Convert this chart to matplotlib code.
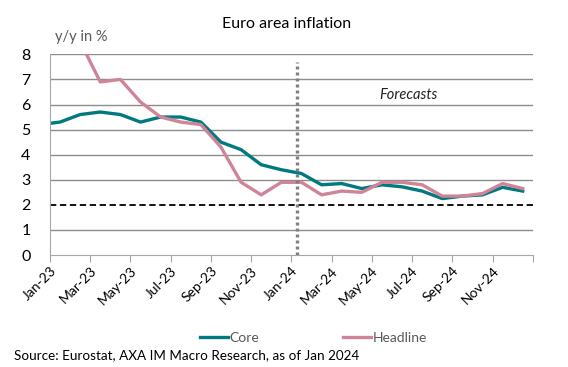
import numpy as np
import matplotlib
matplotlib.use("Agg")
import matplotlib.pyplot as plt

plt.rcParams['font.family'] = ['Lato', 'DejaVu Sans']

# monthly data, Dec-22 .. Dec-24 (Dec-22 sits left of the axis and gets clipped)
months = ['Dec-22',
          'Jan-23', 'Feb-23', 'Mar-23', 'Apr-23', 'May-23', 'Jun-23',
          'Jul-23', 'Aug-23', 'Sep-23', 'Oct-23', 'Nov-23', 'Dec-23',
          'Jan-24', 'Feb-24', 'Mar-24', 'Apr-24', 'May-24', 'Jun-24',
          'Jul-24', 'Aug-24', 'Sep-24', 'Oct-24', 'Nov-24', 'Dec-24']
core = [5.2,
        5.3, 5.6, 5.7, 5.6, 5.3, 5.5, 5.5, 5.3, 4.5, 4.2, 3.6, 3.4,
        3.25, 2.8, 2.85, 2.65, 2.8, 2.72, 2.55, 2.25, 2.35, 2.4, 2.7, 2.55]
headline = [9.2,
            8.6, 8.5, 6.9, 7.0, 6.1, 5.5, 5.3, 5.2, 4.3, 2.9, 2.4, 2.9,
            2.9, 2.4, 2.55, 2.5, 2.9, 2.9, 2.8, 2.35, 2.35, 2.45, 2.85, 2.65]
tick_labels = ['Jan-23', 'Mar-23', 'May-23', 'Jul-23', 'Sep-23', 'Nov-23',
               'Jan-24', 'Mar-24', 'May-24', 'Jul-24', 'Sep-24', 'Nov-24', '']
target = 2.0
forecast_start = 12.3

grey = '#808080'
text_grey = '#595959'

fig = plt.figure(figsize=(5.68, 3.67), dpi=100)
ax = fig.add_axes([0.088, 0.305, 0.85, 0.547])

x = np.arange(len(months)) - 0.5
ax.plot(x, core, color='#00797F', lw=2.4, label='Core', solid_joinstyle='round')
ax.plot(x, headline, color='#CF8597', lw=2.4, label='Headline', solid_joinstyle='round')

ax.set_xlim(0, 24)
ax.set_ylim(0, 8)
ax.set_yticks(range(0, 9))
for v in [1, 3, 4, 5, 6, 7, 8]:
    ax.axhline(v, color='#8c8c8c', lw=1, zorder=0)
ax.axhline(target, color='black', lw=1.3, ls=(0, (3.5, 2)), zorder=1)
ax.plot([forecast_start, forecast_start], [0, 7.7], color=grey, lw=2.4,
        ls=(0, (0.9, 0.9)), dash_capstyle='butt', zorder=3)

ax.text(17.8, 6.37, 'Forecasts', style='italic', fontsize=10.5,
        ha='center', va='center', color='#222222')

ax.set_xticks(range(0, 25, 2))
ax.set_xticklabels(tick_labels, rotation=45, ha='right', rotation_mode='anchor',
                   fontsize=10)
ax.tick_params(axis='x', direction='out', length=5, color='#a6a6a6', pad=2)
ax.tick_params(axis='y', length=0, labelsize=11.5, pad=14)
for lab in ax.get_yticklabels():
    lab.set_horizontalalignment('right')

for s in ['top', 'right']:
    ax.spines[s].set_visible(False)
ax.spines['left'].set_color('#a6a6a6')
ax.spines['bottom'].set_color('#a6a6a6')

fig.text(0.505, 0.935, 'Euro area inflation', ha='center', va='center', fontsize=11.5)
fig.text(0.097, 0.898, 'y/y in %', ha='left', va='center', fontsize=10.5, color=text_grey)

leg = fig.legend(loc='center', bbox_to_anchor=(0.552, 0.079), ncol=2, frameon=False,
                 fontsize=10, handlelength=2.0, handletextpad=0.15, columnspacing=6.0)
for t in leg.get_texts():
    t.set_color(text_grey)

fig.text(0.024, 0.033, 'Source: Eurostat, AXA IM Macro Research, as of Jan 2024',
         ha='left', va='center', fontsize=9.7)

fig.savefig('out.png', dpi=100)
